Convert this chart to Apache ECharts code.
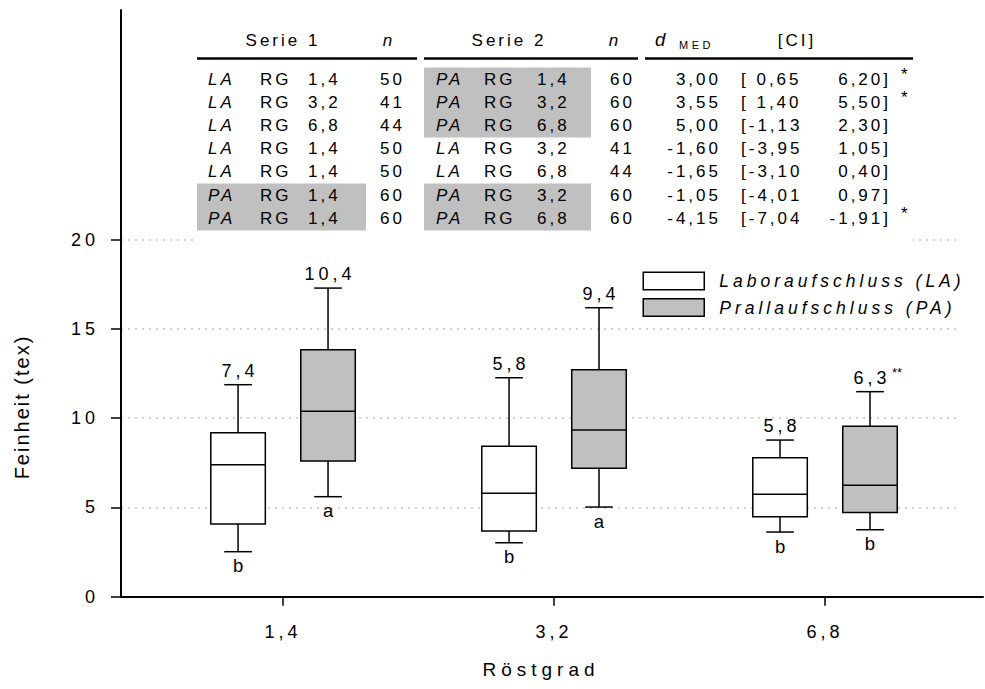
<!DOCTYPE html>
<html>
<head>
<meta charset="utf-8">
<script src="https://cdn.jsdelivr.net/npm/echarts@6/dist/echarts.min.js"></script>
<style>
  html, body { margin: 0; padding: 0; background: #fff; }
  #chart { width: 985px; height: 689px; }
</style>
</head>
<body>
<div id="chart"></div>
<script>
// ---------------- data ----------------
const categories = ['1,4', '3,2', '6,8'];
const seriesNames = ['Laboraufschluss (LA)', 'Prallaufschluss (PA)'];
// [min, Q1, median, Q3, max]
const laStats = [
  [2.52, 4.07, 7.39, 9.18, 11.87],
  [3.02, 3.68, 5.79, 8.42, 12.26],
  [3.62, 4.48, 5.73, 7.78, 8.77]
];
const paStats = [
  [5.60, 7.60, 10.38, 13.83, 17.28],
  [5.02, 7.19, 9.33, 12.71, 16.18],
  [3.75, 4.72, 6.24, 9.54, 11.48]
];
const laMedianLabels = ['7,4', '5,8', '5,8'];
const paMedianLabels = ['10,4', '9,4', '6,3'];
const laSigMarks = ['', '', ''];
const paSigMarks = ['', '', '**'];
const laGroupLetters = ['b', 'b', 'b'];
const paGroupLetters = ['a', 'a', 'b'];
const yTicks = [0, 5, 10, 15, 20];
const xTicks = [1, 2, 3];
const xAxisTitle = 'Röstgrad';
const yAxisTitle = 'Feinheit (tex)';

// comparison table
const tableHeaders = ['Serie 1', 'n', 'Serie 2', 'n', 'd', 'MED', '[CI]'];
const s1Method = ['LA', 'LA', 'LA', 'LA', 'LA', 'PA', 'PA'];
const s1RG = ['1,4', '3,2', '6,8', '1,4', '1,4', '1,4', '1,4'];
const s1N = ['50', '41', '44', '50', '50', '60', '60'];
const s2Method = ['PA', 'PA', 'PA', 'LA', 'LA', 'PA', 'PA'];
const s2RG = ['1,4', '3,2', '6,8', '3,2', '6,8', '3,2', '6,8'];
const s2N = ['60', '60', '60', '41', '44', '60', '60'];
const dMed = ['3,00', '3,55', '5,00', '-1,60', '-1,65', '-1,05', '-4,15'];
const ciLow = [' 0,65', ' 1,40', '-1,13', '-3,95', '-3,10', '-4,01', '-7,04'];
const ciHigh = ['6,20', '5,50', '2,30', '1,05', '0,40', '0,97', '-1,91'];
const sigMarks = ['*', '*', '', '', '', '', '*'];

// ---------------- rendering ----------------
const FONT = '"Liberation Sans", Arial, Helvetica, sans-serif';
const chartDom = document.getElementById('chart');
const chart = echarts.init(chartDom, null, { renderer: 'svg', width: 985, height: 689 });

function boxSeries(name, stats, labels, sigs, letters, offset, fill) {
  return {
    type: 'custom',
    name: name,
    xAxisIndex: 0,
    yAxisIndex: 0,
    silent: true,
    z: 5,
    itemStyle: { color: fill, borderColor: '#000', borderWidth: 1.5 },
    encode: { x: 0, y: [1, 2, 3, 4, 5] },
    data: stats.map((s, i) => [i + 1].concat(s)),
    renderItem: function (params, api) {
      const i = params.dataIndex;
      const xc = api.value(0) + offset;
      const pMin = api.coord([xc, api.value(1)]);
      const pQ1 = api.coord([xc, api.value(2)]);
      const pMed = api.coord([xc, api.value(3)]);
      const pQ3 = api.coord([xc, api.value(4)]);
      const pMax = api.coord([xc, api.value(5)]);
      const halfW = api.size([0.1006, 0])[0];
      const capHalf = api.size([0.051, 0])[0];
      const x = pMed[0];
      const ls = { stroke: '#000', lineWidth: 1.5 };
      const children = [
        { type: 'line', shape: { x1: x, y1: pMax[1], x2: x, y2: pQ3[1] }, style: ls },
        { type: 'line', shape: { x1: x, y1: pQ1[1], x2: x, y2: pMin[1] }, style: ls },
        { type: 'line', shape: { x1: x - capHalf, y1: pMax[1], x2: x + capHalf, y2: pMax[1] }, style: ls },
        { type: 'line', shape: { x1: x - capHalf, y1: pMin[1], x2: x + capHalf, y2: pMin[1] }, style: ls },
        { type: 'rect', shape: { x: x - halfW, y: pQ3[1], width: 2 * halfW, height: pQ1[1] - pQ3[1] },
          style: { fill: api.visual('color'), stroke: '#000', lineWidth: 1.5 } },
        { type: 'line', shape: { x1: x - halfW, y1: pMed[1], x2: x + halfW, y2: pMed[1] }, style: ls },
        { type: 'text', style: { text: labels[i], x: x + 2, y: pMax[1] - 14, fill: '#000', fontSize: 18,
          fontFamily: FONT, align: 'center', verticalAlign: 'middle' } },
        { type: 'text', style: { text: letters[i], x: x, y: pMin[1] + 14, fill: '#000', fontSize: 18.5,
          fontFamily: FONT, align: 'center', verticalAlign: 'middle' } }
      ];
      if (sigs[i]) {
        children.push({ type: 'text', style: { text: sigs[i], x: x + 22, y: pMax[1] - 19, fill: '#000',
          fontSize: 13, fontFamily: FONT, align: 'left', verticalAlign: 'middle' } });
      }
      return { type: 'group', children: children };
    }
  };
}

// table graphics
const graphics = [];
const Z = 100;
const TFS = 17; // table font size
graphics.push({ type: 'rect', z: Z - 1, shape: { x: 197, y: 26, width: 716, height: 222 }, style: { fill: '#fff' } });
function txt(text, x, y, opt) {
  opt = opt || {};
  graphics.push({
    type: 'text', z: Z + 1, silent: true,
    style: Object.assign({
      text: text, x: x, y: y, fill: '#000', fontSize: TFS, fontFamily: FONT,
      align: opt.align || 'left', textAlign: opt.align || 'left',
      verticalAlign: 'middle', textVerticalAlign: 'middle'
    }, opt.style || {})
  });
}
const headY = 40;
txt(tableHeaders[0], 283, headY, { align: 'center' });
txt(tableHeaders[1], 389, headY, { align: 'center', style: { fontStyle: 'italic' } });
txt(tableHeaders[2], 509, headY, { align: 'center' });
txt(tableHeaders[3], 615, headY, { align: 'center', style: { fontStyle: 'italic' } });
txt(tableHeaders[4], 655, headY - 1, { style: { fontStyle: 'italic', fontSize: 18.5 } });
txt(tableHeaders[5], 679, headY + 5, { style: { fontSize: 11 } });
txt(tableHeaders[6], 797, headY, { align: 'center' });
[[197, 417], [424, 638], [645, 913]].forEach(function (seg) {
  graphics.push({ type: 'line', z: Z, shape: { x1: seg[0], y1: 58.5, x2: seg[1], y2: 58.5 },
    style: { stroke: '#000', lineWidth: 2.5 } });
});
const rowY0 = 79, rowDY = 23.2;
for (let i = 0; i < s1Method.length; i++) {
  const y = rowY0 + i * rowDY;
  if (s1Method[i] === 'PA') {
    graphics.push({ type: 'rect', z: Z, shape: { x: 197, y: y - rowDY / 2, width: 169, height: rowDY + 0.6 },
      style: { fill: '#c0c0c0' } });
  }
  if (s2Method[i] === 'PA') {
    graphics.push({ type: 'rect', z: Z, shape: { x: 424, y: y - rowDY / 2, width: 167, height: rowDY + 0.6 },
      style: { fill: '#c0c0c0' } });
  }
  txt(s1Method[i], 208, y, { style: { fontStyle: 'italic' } });
  txt('RG', 260, y);
  txt(s1RG[i], 308, y);
  txt(s1N[i], 405, y, { align: 'right' });
  txt(s2Method[i], 436, y, { style: { fontStyle: 'italic' } });
  txt('RG', 484, y);
  txt(s2RG[i], 537, y);
  txt(s2N[i], 635, y, { align: 'right' });
  txt(dMed[i], 721, y, { align: 'right' });
  txt('[' + ciLow[i], 741, y);
  txt(ciHigh[i] + ']', 891, y, { align: 'right' });
  if (sigMarks[i]) txt(sigMarks[i], 901, y - 5);
}
// y axis title
graphics.push({
  type: 'text', z: Z, x: 22, y: 407, rotation: Math.PI / 2, silent: true,
  style: { text: yAxisTitle, fill: '#000', fontSize: 20, fontFamily: FONT,
    align: 'center', textAlign: 'center', verticalAlign: 'middle', textVerticalAlign: 'middle' }
});

const option = {
  animation: false,
  backgroundColor: '#fff',
  grid: [
    { left: 121, right: 2, top: 10, bottom: 92.3, outerBoundsMode: 'none', containLabel: false },
    { left: 121, right: 28, top: 239.5, bottom: 92.3, outerBoundsMode: 'none', containLabel: false }
  ],
  xAxis: [
    {
      gridIndex: 0, type: 'value', min: 0.402, max: 3.583, z: 3,
      axisLine: { show: true, onZero: false, lineStyle: { color: '#000', width: 2 } },
      axisTick: { show: true, customValues: xTicks, length: 9, lineStyle: { color: '#000', width: 1.5 } },
      axisLabel: { show: true, customValues: xTicks, formatter: function (v) { return categories[Math.round(v) - 1]; },
        margin: 26, fontSize: 18, fontFamily: FONT, color: '#000' },
      splitLine: { show: false },
      name: xAxisTitle, nameLocation: 'middle', nameGap: 63,
      nameTextStyle: { fontSize: 19, fontFamily: FONT, color: '#000', padding: [0, 22, 0, 0] }
    },
    { gridIndex: 1, type: 'value', min: 0.402, max: 3.583, show: false }
  ],
  yAxis: [
    {
      gridIndex: 0, type: 'value', min: 0, max: 32.85, z: 3,
      axisLine: { show: true, lineStyle: { color: '#000', width: 2 } },
      axisTick: { show: true, customValues: yTicks, length: 10, lineStyle: { color: '#000', width: 1.5 } },
      axisLabel: { show: true, customValues: yTicks, margin: 22, fontSize: 18, fontFamily: FONT, color: '#000' },
      splitLine: { show: false }
    },
    {
      gridIndex: 1, type: 'value', min: 0, max: 20, interval: 5, z: -1,
      axisLine: { show: false }, axisTick: { show: false }, axisLabel: { show: false },
      splitLine: { show: true, showMinLine: false, lineStyle: { color: '#c4c4c4', width: 1.5, type: [2, 5] } }
    }
  ],
  legend: {
    data: seriesNames, orient: 'vertical', left: 642.5, top: 271.5, padding: 0,
    itemWidth: 61, itemHeight: 17.5, itemGap: 7.5, icon: 'rect', selectedMode: false,
    itemStyle: { borderColor: '#000', borderWidth: 1.5 },
    textStyle: { fontFamily: FONT, fontSize: 17.5, fontStyle: 'italic', color: '#000',
      padding: [0, 0, 0, 10], lineHeight: 17.5 }
  },
  graphic: { elements: graphics },
  series: [
    boxSeries(seriesNames[0], laStats, laMedianLabels, laSigMarks, laGroupLetters, -0.166, '#ffffff'),
    boxSeries(seriesNames[1], paStats, paMedianLabels, paSigMarks, paGroupLetters, 0.166, '#c0c0c0')
  ]
};
chart.setOption(option);

// letter spacing by font size (mimics the wide-spaced typography of the original)
const LS = { 11: 3.5, 17: 3, 17.5: 4, 18: 4, 19: 5, 20: 2 };
function applySpacing() {
  chartDom.querySelectorAll('text').forEach(function (t) {
    const fs = Math.round(parseFloat(getComputedStyle(t).fontSize) * 10) / 10;
    if (LS[fs] != null) t.style.letterSpacing = LS[fs] + 'px';
  });
}
chart.on('finished', applySpacing);
setTimeout(applySpacing, 0);
setTimeout(applySpacing, 100);
</script>
</body>
</html>
